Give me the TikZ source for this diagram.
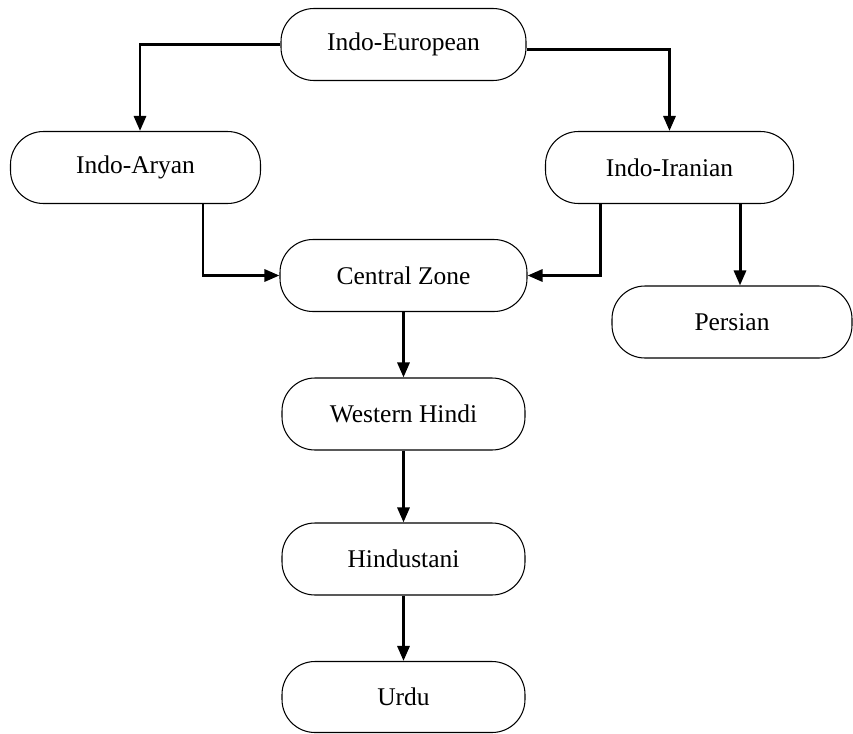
\documentclass[tikz,border=0pt]{standalone}
\usepackage{fontspec}
\setmainfont{Liberation Serif}
\usepackage{tikz}
\usetikzlibrary{arrows.meta}

\begin{document}
\begin{tikzpicture}[
  lang/.style={draw, rounded corners=0.66cm, line width=0.6pt, minimum width=4.9cm,
    minimum height=1.44cm, inner sep=0pt, font=\fontsize{14.5}{17}\selectfont},
  link/.style={line width=1.7pt, -{Triangle[length=0.3cm,width=0.24cm]}}]
\useasboundingbox (0,0) rectangle (17.06,-14.66);
\node [lang] (ie) at (8.07,-0.89) {Indo-European};
\node [lang, minimum width=5.0cm] (ia) at (2.71,-3.35) {Indo-Aryan};
\node [lang, minimum width=4.96cm] (ii) at (13.39,-3.35) {Indo-Iranian};
\node [lang, minimum width=4.94cm] (cz) at (8.07,-5.51) {Central Zone};
\node [lang, minimum width=4.8cm] (pe) at (14.64,-6.44) {Persian};
\node [lang, minimum width=4.86cm] (wh) at (8.07,-8.28) {Western Hindi};
\node [lang, minimum width=4.86cm] (hi) at (8.07,-11.18) {Hindustani};
\node [lang, minimum width=4.86cm, minimum height=1.42cm] (ur) at (8.07,-13.94) {Urdu};

\draw[link] (ie.west) -| ([xshift=0.09cm]ia.north);
\draw[link] ([yshift=-0.1cm]ie.east) -| (ii.north);
\draw[link] ([xshift=1.35cm]ia.south) |- (cz.west);
\draw[link] ([xshift=-1.39cm]ii.south) |- (cz.east);
\draw[link] ([xshift=1.41cm]ii.south) -- ([xshift=1.41cm]ii.south |- pe.north);
\draw[link] (cz) -- (wh);
\draw[link] (wh) -- (hi);
\draw[link] (hi) -- (ur);
\end{tikzpicture}
\end{document}
